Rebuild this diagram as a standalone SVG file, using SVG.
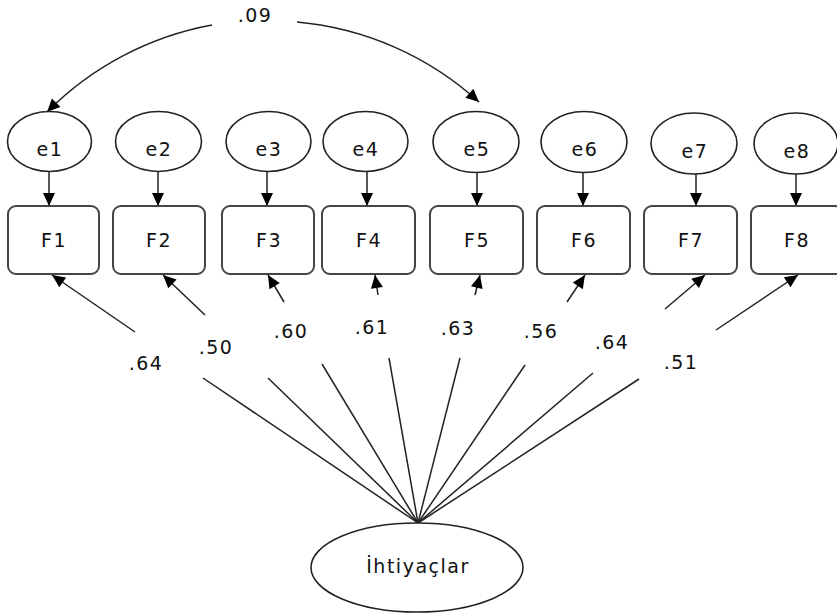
<svg xmlns="http://www.w3.org/2000/svg" width="837" height="613" viewBox="0 0 837 613">
<defs>
<marker id="ah" markerUnits="userSpaceOnUse" markerWidth="14" markerHeight="12" refX="13" refY="6" orient="auto" overflow="visible">
<path d="M0,0 L13,6 L0,12 z" fill="#000"/>
</marker>
<style>
.ell{fill:#fff;stroke:#222;stroke-width:1.6}
.box{fill:#fff;stroke:#444;stroke-width:2}
.ln{fill:none;stroke:#222;stroke-width:1.5}
.arr{fill:none;stroke:#222;stroke-width:1.5;marker-end:url(#ah)}
text{font-family:"DejaVu Sans","Liberation Sans",sans-serif;font-size:19px;letter-spacing:1.5px;fill:#111;text-anchor:middle}
</style>
</defs>
<rect width="837" height="613" fill="#fff"/>

<g id="connectors">
<path class="arr" d="M212,25 A312,312 0 0 0 47,112"/>
<path class="arr" d="M297,22 A312,312 0 0 1 479,102"/>
<line class="arr" x1="49" y1="172" x2="49" y2="206"/>
<line class="arr" x1="158" y1="172" x2="158" y2="206"/>
<line class="arr" x1="267" y1="172" x2="267" y2="206"/>
<line class="arr" x1="367" y1="172" x2="367" y2="206"/>
<line class="arr" x1="477" y1="173" x2="477" y2="206"/>
<line class="arr" x1="583" y1="173" x2="583" y2="206"/>
<line class="arr" x1="696" y1="174" x2="696" y2="206"/>
<line class="arr" x1="796" y1="174" x2="796" y2="206"/>
<line class="ln" x1="418" y1="523" x2="203" y2="378"/>
<line class="ln" x1="418" y1="523" x2="268" y2="378"/>
<line class="ln" x1="418" y1="523" x2="322" y2="364"/>
<line class="ln" x1="418" y1="523" x2="389" y2="358"/>
<line class="ln" x1="418" y1="523" x2="460" y2="358"/>
<line class="ln" x1="418" y1="523" x2="525" y2="365"/>
<line class="ln" x1="418" y1="523" x2="593" y2="373"/>
<line class="ln" x1="418" y1="523" x2="639" y2="379"/>
<line class="arr" x1="135" y1="332" x2="52" y2="275"/>
<line class="arr" x1="205" y1="315" x2="163" y2="275"/>
<line class="arr" x1="284" y1="302" x2="268" y2="275"/>
<line class="arr" x1="378" y1="295" x2="375" y2="275"/>
<line class="arr" x1="475" y1="295" x2="480" y2="275"/>
<line class="arr" x1="567" y1="302" x2="585" y2="275"/>
<line class="arr" x1="665" y1="309" x2="705" y2="275"/>
<line class="arr" x1="716" y1="330" x2="798" y2="275"/>
</g>

<g id="labels">
<text x="255" y="22">.09</text>
<text x="146" y="370">.64</text>
<text x="216" y="354">.50</text>
<text x="291" y="338">.60</text>
<text x="372" y="334">.61</text>
<text x="458" y="335">.63</text>
<text x="541" y="338">.56</text>
<text x="612" y="349">.64</text>
<text x="681" y="369">.51</text>
</g>

<g id="e1"><ellipse class="ell" cx="49.5" cy="141.5" rx="42" ry="30"/><text x="50" y="156">e1</text></g>
<g id="e2"><ellipse class="ell" cx="158.5" cy="141.5" rx="43" ry="30"/><text x="159" y="156">e2</text></g>
<g id="e3"><ellipse class="ell" cx="268.5" cy="141.5" rx="42.5" ry="30"/><text x="269" y="156">e3</text></g>
<g id="e4"><ellipse class="ell" cx="365.5" cy="141.5" rx="42.5" ry="30"/><text x="366" y="156">e4</text></g>
<g id="e5"><ellipse class="ell" cx="476" cy="142" rx="43" ry="30.5"/><text x="477" y="156">e5</text></g>
<g id="e6"><ellipse class="ell" cx="584" cy="142" rx="43" ry="30.5"/><text x="585" y="156">e6</text></g>
<g id="e7"><ellipse class="ell" cx="694" cy="143.5" rx="43" ry="30.5"/><text x="695" y="158">e7</text></g>
<g id="e8"><ellipse class="ell" cx="796" cy="143.5" rx="42" ry="30.5"/><text x="797" y="158">e8</text></g>

<g id="F1"><rect class="box" x="8" y="206" width="91" height="68" rx="8"/><text x="54" y="247">F1</text></g>
<g id="F2"><rect class="box" x="113" y="206" width="92" height="68" rx="8"/><text x="159" y="247">F2</text></g>
<g id="F3"><rect class="box" x="222" y="206" width="92" height="68" rx="8"/><text x="269" y="247">F3</text></g>
<g id="F4"><rect class="box" x="322" y="206" width="93" height="68" rx="8"/><text x="369" y="247">F4</text></g>
<g id="F5"><rect class="box" x="430" y="206" width="93" height="68" rx="8"/><text x="477" y="247">F5</text></g>
<g id="F6"><rect class="box" x="537" y="206" width="93" height="68" rx="8"/><text x="584" y="247">F6</text></g>
<g id="F7"><rect class="box" x="644" y="206" width="93" height="68" rx="8"/><text x="691" y="247">F7</text></g>
<g id="F8"><rect class="box" x="751" y="206" width="92" height="68" rx="8"/><text x="797" y="247">F8</text></g>

<g id="Ihtiyaclar"><ellipse class="ell" cx="417" cy="567.5" rx="106" ry="44.5"/><text x="418" y="573">İhtiyaçlar</text></g>
</svg>
